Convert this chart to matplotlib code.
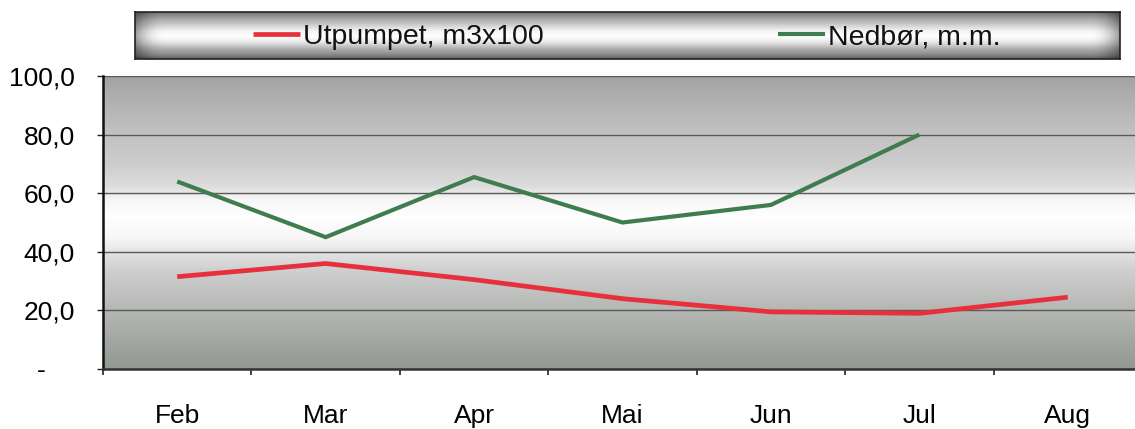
import numpy as np
import matplotlib
matplotlib.use("Agg")
import matplotlib.pyplot as plt
from matplotlib.colors import LinearSegmentedColormap
from matplotlib.ticker import FuncFormatter, FixedLocator

plt.rcParams['font.family'] = ['Liberation Sans', 'DejaVu Sans']

months = ["Feb", "Mar", "Apr", "Mai", "Jun", "Jul", "Aug"]
utpumpet = [31.5, 36.0, 30.5, 24.0, 19.5, 19.0, 24.5]
nedbor = [64.0, 45.0, 65.5, 50.0, 56.0, 80.0, np.nan]
yticks = [0, 20, 40, 60, 80, 100]

W, H = 1135, 429
fig = plt.figure(figsize=(W / 100, H / 100), dpi=100)
fig.patch.set_facecolor("white")

# ---- main axes ----
ax = fig.add_axes([103 / W, 1 - 369 / H, (1142 - 103) / W, (369 - 76) / H])

# background gradient (vertical "metallic" profile)
stops = [
    (0.00, "#929892"),
    (0.10, "#a4a8a4"),
    (0.22, "#b8bab8"),
    (0.34, "#cfd0cf"),
    (0.40, "#e4e4e4"),
    (0.45, "#f8f8f8"),
    (0.52, "#ffffff"),
    (0.58, "#f6f6f6"),
    (0.62, "#dedede"),
    (0.70, "#cdcdcd"),
    (0.82, "#c0c0c0"),
    (0.92, "#b0b0b0"),
    (1.00, "#a2a4a2"),
]
cmap_bg = LinearSegmentedColormap.from_list("bg", stops)
grad = np.linspace(0, 1, 512).reshape(-1, 1)
ax.imshow(grad, cmap=cmap_bg, aspect="auto", origin="lower",
          extent=[0, 1, 0, 1], transform=ax.transAxes, zorder=0,
          interpolation="bicubic")

x = np.arange(len(months))
ax.plot(x, utpumpet, color="#e8303c", lw=3.4, solid_capstyle="butt",
        solid_joinstyle="round", zorder=3, label="Utpumpet, m3x100")
ax.plot(x, nedbor, color="#3f7d50", lw=3.0, solid_capstyle="butt",
        solid_joinstyle="miter", zorder=3, label="Nedbør, m.m.")

ax.set_xlim(-0.5, len(months) - 0.5)
ax.set_ylim(0, 100)

ax.set_yticks(yticks)
ax.yaxis.set_major_formatter(FuncFormatter(
    lambda v, p: "-    " if abs(v) < 1e-9 else f"{v:.1f}".replace(".", ",")))
ax.grid(axis="y", color="#5a5a5a", lw=1.0, zorder=1)
ax.set_axisbelow(True)

ax.set_xticks(x)
ax.set_xticklabels(months)
ax.xaxis.set_minor_locator(FixedLocator(np.arange(-0.5, len(months), 1.0)))
ax.tick_params(axis="x", which="major", length=0, pad=25, labelsize=19)
ax.tick_params(axis="x", which="minor", length=4.5, width=1.2, color="#222222",
               direction="out")
ax.tick_params(axis="y", which="major", length=4.3, width=1.0, color="#222222",
               direction="out", pad=16, labelsize=19)

for s in ["top", "right"]:
    ax.spines[s].set_visible(False)
ax.spines["left"].set_color("#111111")
ax.spines["left"].set_linewidth(1.8)
ax.spines["bottom"].set_color("#333333")
ax.spines["bottom"].set_linewidth(1.8)

# ---- legend box ----
lx0, lx1, ly0, ly1 = 135, 1120, 12, 59
lax = fig.add_axes([lx0 / W, 1 - ly1 / H, (lx1 - lx0) / W, (ly1 - ly0) / H])
vstops = [
    (0.00, "#606060"),
    (0.10, "#8c8c8c"),
    (0.22, "#b0b0b0"),
    (0.36, "#e8e8e8"),
    (0.48, "#ffffff"),
    (0.60, "#f4f4f4"),
    (0.72, "#d0d0d0"),
    (0.86, "#a8a8a8"),
    (1.00, "#727272"),
]
vmap = LinearSegmentedColormap.from_list("lv", vstops)
vy = np.linspace(0, 1, 200)
vcol = vmap(vy)[:, :3]  # from bottom (0) to top (1)
hx = np.linspace(0, 1, 800)
edge = np.clip(np.minimum(hx, 1 - hx) / 0.03, 0, 1)
hfac = 0.62 + 0.38 * (1 - (1 - edge) ** 2)
img = vcol[:, None, :] * hfac[None, :, None]
lax.imshow(img, aspect="auto", origin="lower", extent=[0, 1, 0, 1],
           interpolation="bicubic")
lax.set_xlim(0, 1)
lax.set_ylim(0, 1)
lax.set_xticks([])
lax.set_yticks([])
for s in lax.spines.values():
    s.set_color("#222222")
    s.set_linewidth(1.2)

handles, labels = ax.get_legend_handles_labels()
leg = fig.legend(handles, labels, ncol=2, loc="center left",
                 bbox_to_anchor=(253 / W, 1 - 37 / H),
                 frameon=False, fontsize=20.5, handlelength=1.65,
                 handletextpad=0.12, columnspacing=8.2, borderpad=0,
                 borderaxespad=0)
for t in leg.get_texts():
    t.set_color("#111111")

fig.savefig("out.png", dpi=100)
